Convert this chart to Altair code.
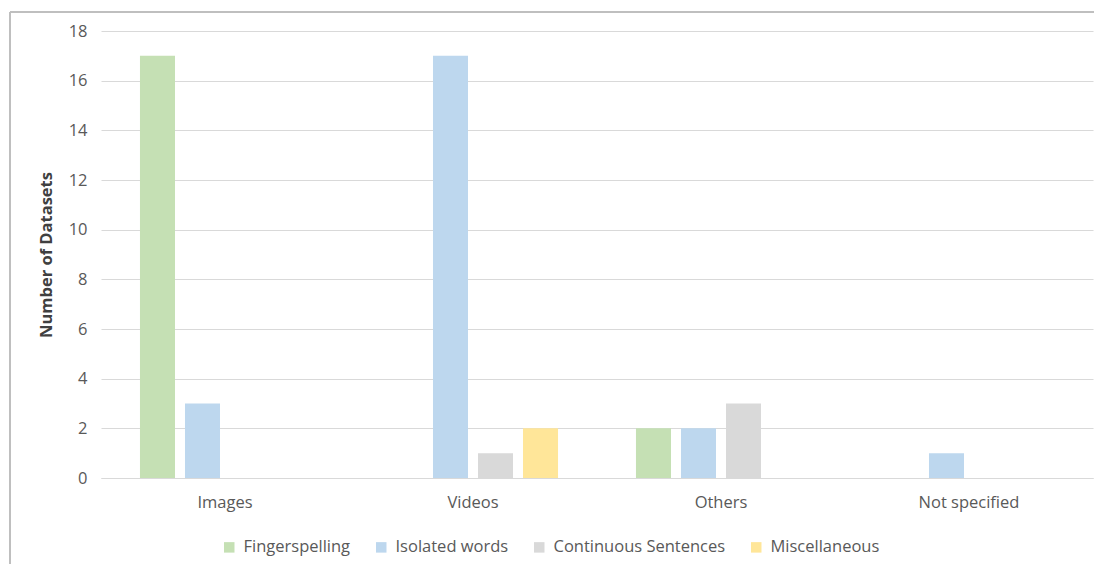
import altair as alt
import pandas as pd

# Dataset counts by data source and sign-language task
categories = ["Images", "Videos", "Others", "Not specified"]
series = ["Fingerspelling", "Isolated words", "Continuous Sentences", "Miscellaneous"]
fingerspelling = [17, 0, 2, 0]
isolated_words = [3, 17, 2, 1]
continuous_sentences = [0, 1, 3, 0]
miscellaneous = [0, 2, 0, 0]
colors = ["#C5E0B4", "#BDD7EE", "#D9D9D9", "#FFE699"]
y_ticks = list(range(0, 19, 2))

rows = []
for name, vals in zip(series, [fingerspelling, isolated_words, continuous_sentences, miscellaneous]):
    for cat, v in zip(categories, vals):
        rows.append({"Source": cat, "Type": name, "Count": v})
df = pd.DataFrame(rows)

FONT = "Open Sans"
TXT = "#595959"
FS = 16.5

bars = alt.Chart(df).mark_bar().encode(
    x=alt.X("Source:N", sort=categories, title=None,
            scale=alt.Scale(paddingInner=0.274, paddingOuter=0.137),
            axis=alt.Axis(labelAngle=0, labelFontSize=FS, labelColor=TXT, labelFont=FONT,
                          labelPadding=16, ticks=False, grid=False,
                          domainColor="#D9D9D9", domainWidth=1)),
    xOffset=alt.XOffset("Type:N", sort=series,
                        scale=alt.Scale(paddingInner=0.222, paddingOuter=0.111)),
    y=alt.Y("Count:Q", title="Number of Datasets",
            scale=alt.Scale(domain=[0, 18], nice=False),
            axis=alt.Axis(values=y_ticks, labelFontSize=FS, labelColor=TXT, labelFont=FONT,
                          labelPadding=14, ticks=False, domain=False,
                          gridColor="#D9D9D9", gridWidth=1,
                          titleFont=FONT, titleFontSize=FS, titleFontWeight="bold",
                          titleColor="#404040", titlePadding=14)),
    color=alt.Color("Type:N", sort=series,
                    scale=alt.Scale(domain=series, range=colors),
                    legend=alt.Legend(title=None, orient="none", direction="horizontal",
                                      legendX=120, legendY=508,
                                      symbolType="square", symbolSize=110,
                                      symbolStrokeWidth=0, labelFont=FONT,
                                      labelFontSize=FS, labelColor=TXT, labelLimit=400,
                                      columnPadding=22, labelOffset=6)),
)

# Outer chart frame (left and top edges)
frame_df = pd.DataFrame({"k": [0]})
frame_left = alt.Chart(frame_df).mark_rule(color="#BFBFBF", strokeWidth=2, clip=False).encode(
    x=alt.value(-91), y=alt.value(-19), y2=alt.value(560))
frame_top = alt.Chart(frame_df).mark_rule(color="#BFBFBF", strokeWidth=2, clip=False).encode(
    x=alt.value(-91), x2=alt.value(1000), y=alt.value(-19))

chart = alt.layer(bars, frame_left, frame_top).properties(
    width=992, height=447,
    background="white",
    autosize=alt.AutoSizeParams(type="none"),
    padding={"left": 101, "top": 31, "right": 1, "bottom": 86},
).configure_view(strokeWidth=0)

chart.save("out.html", embed_options={"renderer": "svg", "actions": False})
